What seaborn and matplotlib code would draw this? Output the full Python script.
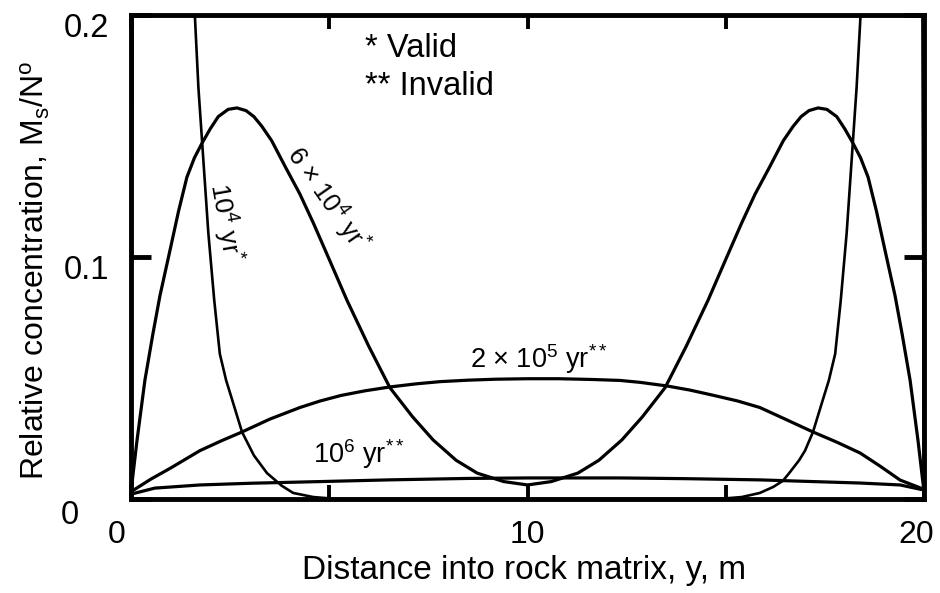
import numpy as np
import pandas as pd
import matplotlib
matplotlib.use("Agg")
import matplotlib.pyplot as plt
import matplotlib.transforms as mtrans
import seaborn as sns

# ---------------- data ----------------
x_1e4 = [0.0, 0.02, 0.04, 0.3, 0.7, 1.1, 1.61, 1.7, 1.8, 1.95, 2.1, 2.24, 2.4, 2.57,
         2.8, 3.1, 3.43, 3.8, 4.09, 4.6, 5.2, 10.0, 14.8, 15.4, 15.86, 16.2, 16.44,
         16.6, 16.85, 17.0, 17.2, 17.43, 17.6, 17.76, 17.9, 18.05, 18.2, 18.3, 18.4,
         18.9, 19.3, 19.7, 19.96, 19.98, 20.0]
y_1e4 = [0.0, 0.10, 0.20, 0.33, 0.38, 0.32, 0.200, 0.170, 0.146, 0.110, 0.082, 0.060,
         0.049, 0.040, 0.0277, 0.018, 0.0107, 0.0055, 0.0025, 0.0008, 0.0, 0.0, 0.0,
         0.0008, 0.0025, 0.0050, 0.0075, 0.0107, 0.016, 0.020, 0.0277, 0.040, 0.049,
         0.060, 0.082, 0.110, 0.146, 0.170, 0.200, 0.32, 0.38, 0.33, 0.20, 0.10, 0.0]

x_6e4 = [0.0, 0.15, 0.35, 0.55, 0.73, 1.0, 1.2, 1.41, 1.6, 1.79, 2.0, 2.2, 2.45, 2.67,
         2.9, 3.1, 3.3, 3.55, 3.9, 4.26, 4.6, 5.0, 5.45, 6.0, 6.53, 7.1, 7.62, 8.2,
         8.73, 9.4, 10.0, 10.6, 11.27, 11.8, 12.38, 12.9, 13.47, 14.0, 14.55, 15.0,
         15.4, 15.74, 16.1, 16.45, 16.7, 16.9, 17.1, 17.33, 17.55, 17.8, 18.0, 18.21,
         18.4, 18.59, 18.8, 19.0, 19.27, 19.45, 19.65, 19.85, 20.0]
y_6e4 = [0.003, 0.024, 0.049, 0.068, 0.084, 0.104, 0.119, 0.133, 0.141, 0.147, 0.153,
         0.158, 0.161, 0.1616, 0.1605, 0.158, 0.154, 0.148, 0.137, 0.126, 0.114, 0.099,
         0.082, 0.063, 0.046, 0.034, 0.0244, 0.016, 0.0107, 0.0072, 0.0058, 0.0072,
         0.0107, 0.016, 0.0244, 0.034, 0.046, 0.063, 0.082, 0.099, 0.114, 0.126,
         0.137, 0.148, 0.154, 0.158, 0.1605, 0.1616, 0.161, 0.158, 0.153, 0.147,
         0.141, 0.133, 0.119, 0.104, 0.084, 0.068, 0.049, 0.024, 0.003]

x_2e5 = [0.0, 0.5, 1.0, 1.74, 2.3, 2.8, 3.5, 4.26, 4.77, 5.3, 5.9, 6.53, 7.2, 7.8, 8.5,
         9.2, 10.0, 10.8, 11.6, 12.33, 12.84, 13.52, 14.1, 14.7, 15.3, 15.86, 16.5,
         17.2, 17.8, 18.39, 18.9, 19.4, 20.0]
y_2e5 = [0.003, 0.0082, 0.0128, 0.020, 0.0242, 0.0277, 0.033, 0.0378, 0.0405, 0.0428,
         0.0447, 0.0463, 0.0476, 0.0485, 0.0491, 0.0495, 0.0497, 0.0497, 0.0494, 0.049,
         0.0482, 0.0467, 0.045, 0.0428, 0.0405, 0.0378, 0.033, 0.0277, 0.0235, 0.019,
         0.0135, 0.0078, 0.004]

x_1e6 = [0.0, 0.6, 1.74, 3.0, 4.77, 6.5, 8.5, 10.0, 12.33, 14.0, 15.86, 17.2, 18.39, 19.4, 20.0]
y_1e6 = [0.002, 0.0045, 0.0058, 0.0065, 0.0072, 0.0079, 0.0085, 0.0087, 0.0087, 0.0084,
         0.0079, 0.0072, 0.0066, 0.0058, 0.0037]

xtick_vals = [0, 5, 10, 15, 20]
xtick_text = ["0", "", "10", "", "20"]
ytick_vals = [0, 0.1, 0.2]
ytick_text = ["0", "0.1", "0.2"]

# ---------------- style ----------------
sns.set_style("ticks")
plt.rcParams["font.family"] = ["Liberation Sans", "DejaVu Sans"]
plt.rcParams["mathtext.fontset"] = "custom"
plt.rcParams["mathtext.rm"] = "Liberation Sans"
plt.rcParams["mathtext.it"] = "Liberation Sans:italic"
plt.rcParams["mathtext.bf"] = "Liberation Sans:bold"
plt.rcParams["mathtext.sf"] = "Liberation Sans"
plt.rcParams["mathtext.default"] = "regular"
for k in ["text.color", "axes.labelcolor", "xtick.color", "ytick.color",
          "axes.edgecolor", "xtick.labelcolor", "ytick.labelcolor"]:
    plt.rcParams[k] = "black"

fig = plt.figure(figsize=(9.4, 5.93), dpi=100)
ax = fig.add_axes([131 / 940, 1 - 499 / 593, (924 - 131) / 940, (499 - 15) / 593])

curves = [
    (x_1e4, y_1e4, 1.9),
    (x_6e4, y_6e4, 2.3),
    (x_2e5, y_2e5, 2.3),
    (x_1e6, y_1e6, 2.3),
]
for xs, ys, lw in curves:
    df = pd.DataFrame({"x": xs, "y": ys})
    sns.lineplot(data=df, x="x", y="y", ax=ax, color="black", linewidth=lw,
                 sort=False, estimator=None)

ax.set_xlim(0, 20)
ax.set_ylim(0, 0.2)
ax.set_xticks(xtick_vals)
ax.set_xticklabels(xtick_text)
ax.set_yticks(ytick_vals)
ax.set_yticklabels(ytick_text)

for s in ax.spines.values():
    s.set_linewidth(3.5)
    s.set_color("black")
    s.set_visible(True)

ax.tick_params(axis="y", direction="in", left=True, right=True, length=14.5,
               width=3.5, labelsize=23.5, pad=16, color="black", labelcolor="black")
ax.tick_params(axis="x", direction="in", bottom=True, top=True, length=10,
               width=2.8, labelsize=23, pad=15, color="black", labelcolor="black")

ax.set_xlabel("Distance into rock matrix, y, m", fontsize=24)
ax.set_ylabel(r"Relative concentration, M$_\mathrm{s}$/N$^\mathrm{o}$", fontsize=23)
ax.xaxis.set_label_coords(0.4956, -0.115)
ax.yaxis.set_label_coords(-0.100, 0.473)

# shift tick labels slightly like the reference
def shift(lbl, dx, dy):
    lbl.set_transform(lbl.get_transform() +
                      mtrans.ScaledTranslation(dx / 100, dy / 100, fig.dpi_scale_trans))

ylbls = ax.get_yticklabels()
shift(ylbls[0], -30, -13)
shift(ylbls[1], 0, -10)
shift(ylbls[2], 0, -10)
xlbls = ax.get_xticklabels()
shift(xlbls[0], -14, 0)
shift(xlbls[4], -8, 0)

# annotations
ax.text(5.90, 0.1826, "* Valid", fontsize=23.5, ha="left", va="baseline")
ax.text(5.90, 0.1669, "** Invalid", fontsize=23.5, ha="left", va="baseline")
ax.text(8.55, 0.0541, r"2 × 10$^5$ yr$^{**}$", fontsize=19.5, ha="left", va="baseline")
ax.text(4.59, 0.0149, r"10$^6$ yr$^{**}$", fontsize=19.5, ha="left", va="baseline")
ax.text(2.37, 0.1145, r"10$^4$ yr$^{\!*}$", fontsize=19, ha="center", va="center",
        rotation=-80, rotation_mode="anchor")
ax.text(4.95, 0.1236, r"6 × 10$^4$ yr$^{\!*}$", fontsize=18.5, ha="center", va="center",
        rotation=-55, rotation_mode="anchor")

fig.savefig("out.png", dpi=100)
